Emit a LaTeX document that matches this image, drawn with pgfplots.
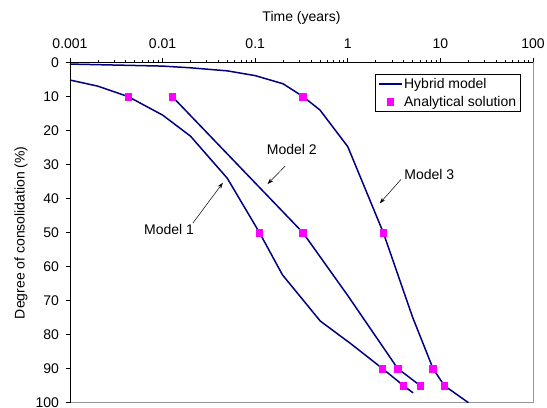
\documentclass[border=0pt]{standalone}
\usepackage{pgfplots}
\pgfplotsset{compat=1.18}
\usepackage{fontspec}
\setmainfont{Liberation Sans}
\usetikzlibrary{arrows.meta}
\definecolor{navyline}{RGB}{0,0,128}
\definecolor{magmark}{RGB}{255,0,255}
\definecolor{frame}{RGB}{150,150,150}
\pgfplotsset{
  hyblegend/.style={legend image code/.code={\draw[##1] (0bp,0bp) -- (23bp,0bp);}},
  marklegend/.style={legend image code/.code={\draw[##1] plot coordinates {(11.5bp,0bp)};}},
}
\begin{document}
\begin{tikzpicture}
\path[use as bounding box] (-70bp,-5.3bp) rectangle (477bp,402.7bp);
\begin{axis}[
  at={(0,0)}, anchor=south west,
  scale only axis, width=463bp, height=340bp,
  xmode=log, xmin=0.001, xmax=100,
  ymin=0, ymax=100, y dir=reverse,
  xtick={0.001,0.01,0.1,1,10,100},
  xticklabels={0.001,0.01,0.1,1,10,100},
  ytick={0,10,...,100},
  minor xtick={}, minor ytick={},
  /pgf/number format/assume math mode=true,
  xtick pos=upper, xticklabel pos=upper,
  ytick pos=left,
  tick align=outside,
  major tick length=4.5bp,
  tick style={black, line width=0.6bp},
  axis line style={draw=frame, line width=0.8bp},
  font=\fontsize{14bp}{16.8bp}\selectfont,
  xticklabel shift=6.5bp,
  yticklabel shift=3bp,
  xlabel={Time (years)},
  ylabel={Degree of consolidation (\%)},
  every axis x label/.style={at={(axis description cs:0.5,1)}, anchor=center, yshift=44.5bp},
  every axis y label/.style={at={(axis description cs:0,0.5)}, xshift=-49bp, rotate=90, anchor=center},
  clip mode=individual,
  legend cell align=left,
  legend style={at={(1,1)}, anchor=north east, xshift=-12bp, yshift=-11.3bp,
    draw=black, line width=0.6bp, fill=white,
    font=\fontsize{14bp}{16.8bp}\selectfont,
    inner xsep=3bp, inner ysep=2bp, row sep=2bp,
    nodes={inner xsep=1.5bp, inner ysep=2bp}},
]
% Model 1 hybrid
\addplot[navyline, line width=1.5bp, mark=none, hyblegend]
  coordinates {(0.001,5.1) (0.002,6.9) (0.00427,10) (0.01,15.4) (0.02,21.6) (0.05,34) (0.1114,50) (0.197,62.4) (0.505,76.0) (1.06,82.5) (2.38,90) (4.0,95) (5.07,97.1)};
\addlegendentry{Hybrid model}
% Model 1 analytical
\addplot[only marks, mark=square*, mark size=3.3bp, mark options={fill=magmark, draw=magmark, line width=0pt}, marklegend]
  coordinates {(0.00427,10) (0.1114,50) (2.38,90) (4.0,95)};
\addlegendentry{Analytical solution}
% Model 2 hybrid
\addplot[navyline, line width=1.5bp, mark=none, forget plot]
  coordinates {(0.01276,10) (0.328,50) (1.0,68.5) (3.47,90) (6.08,95)};
% Model 3 hybrid
\addplot[navyline, line width=1.5bp, mark=none, forget plot]
  coordinates {(0.001,0.4) (0.01,1.0) (0.02,1.5) (0.05,2.4) (0.1,3.8) (0.2,6.2) (0.33,10) (0.5,13.9) (1.0,24.7) (2.42,50) (5.0,74.8) (8.34,90) (11.04,95) (20.1,100)};
% Model 2 analytical
\addplot[only marks, mark=square*, mark size=3.3bp, mark options={fill=magmark, draw=magmark, line width=0pt}, forget plot]
  coordinates {(0.01276,10) (0.328,50) (3.47,90) (6.08,95)};
% Model 3 analytical
\addplot[only marks, mark=square*, mark size=3.3bp, mark options={fill=magmark, draw=magmark, line width=0pt}, forget plot]
  coordinates {(0.33,10) (2.42,50) (8.34,90) (11.04,95)};
% black left and top axis lines
\draw[black, line width=0.8bp] (axis cs:0.001,100) -- (axis cs:0.001,0) -- (axis cs:100,0);
% annotations
\node[anchor=center] at (axis cs:0.01175,49.0) {Model 1};
\draw[black, line width=0.5bp, -{Stealth[length=6bp,width=4bp]}] (axis cs:0.0212,47.2) -- (axis cs:0.0448,35.3);
\node[anchor=center] at (axis cs:0.249,25.5) {Model 2};
\draw[black, line width=0.5bp, -{Stealth[length=6bp,width=4bp]}] (axis cs:0.211,30.4) -- (axis cs:0.1358,35.7);
\node[anchor=center] at (axis cs:7.60,33.0) {Model 3};
\draw[black, line width=0.5bp, -{Stealth[length=6bp,width=4bp]}] (axis cs:3.76,34.3) -- (axis cs:2.21,41.4);
\end{axis}
\end{tikzpicture}
\end{document}
